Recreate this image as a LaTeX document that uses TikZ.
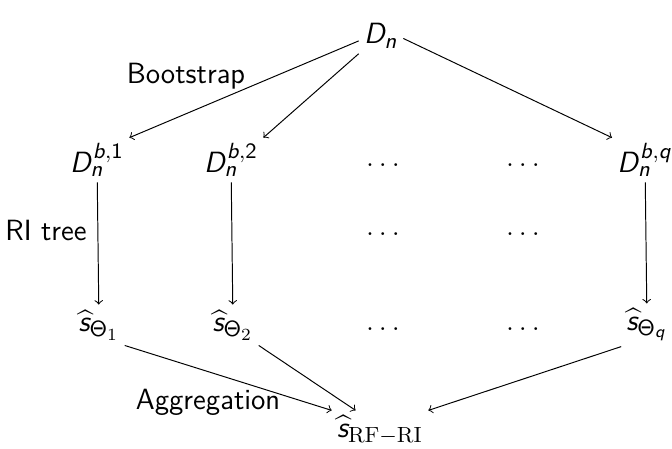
\documentclass[tikz,border=0pt]{standalone}
\usepackage{amsmath}
\DeclareMathAlphabet{\mathssl}{OT1}{cmss}{m}{sl}
\DeclareMathSizes{12}{12}{9}{7}
\newcommand{\sv}[1]{\mathssl{#1}}
\begin{document}
\begin{tikzpicture}[x=0.41pt,y=-0.41pt,
  lab/.style={font=\fontsize{12}{14}\selectfont\sffamily},
  mnode/.style={inner sep=2pt,font=\fontsize{12}{14}\selectfont},
  arr/.style={->}]
\useasboundingbox (0,0) rectangle (672,448);
% row 1
\node[mnode] (Dn) at (381,36) {$\sv{D}_{\sv{n}}$};
\node[lab] (boot) at (186,76) {Bootstrap};
% row 2
\node[mnode] (D1) at (97,160) {$\sv{D}_{\sv{n}}^{\sv{b},\mathsf{1}}$};
\node[mnode] (D2) at (231,160) {$\sv{D}_{\sv{n}}^{\sv{b},\mathsf{2}}$};
\node[mnode] (e1) at (383,165) {$\ldots$};
\node[mnode] (e2) at (523,165) {$\ldots$};
\node[mnode] (Dq) at (645,160) {$\sv{D}_{\sv{n}}^{\sv{b},\sv{q}}$};
% row 3
\node[lab] (ri) at (46,230) {RI tree};
\node[mnode] (f1) at (383,234) {$\ldots$};
\node[mnode] (f2) at (523,234) {$\ldots$};
% row 4
\node[mnode] (s1) at (99,325) {$\widehat{\sv{s}}_{\mathsf{\Theta}_1}$};
\node[mnode] (s2) at (233,325) {$\widehat{\sv{s}}_{\mathsf{\Theta}_2}$};
\node[mnode] (g1) at (383,329) {$\ldots$};
\node[mnode] (g2) at (523,329) {$\ldots$};
\node[mnode] (sq) at (647,325) {$\widehat{\sv{s}}_{\mathsf{\Theta}_{\sv{q}}}$};
% row 5
\node[lab] (agg) at (208,402) {Aggregation};
\node[mnode] (rf) at (380,430) {$\widehat{\sv{s}}_{\mathrm{RF-RI}}$};
% arrows
\draw[arr] ([yshift=-2pt]Dn.west) -- (D1.north east);
\draw[arr] (Dn.south west) -- (D2.north east);
\draw[arr] ([yshift=-1pt]Dn.east) -- (Dq.north west);
\draw[arr] (D1) -- (s1);
\draw[arr] (D2) -- (s2);
\draw[arr] (Dq) -- (sq);
\draw[arr] (s1.south east) -- (rf.north west);
\draw[arr] (s2.south east) -- ([xshift=-10pt]rf.north);
\draw[arr] (sq.south west) -- (rf.north east);
\end{tikzpicture}
\end{document}
